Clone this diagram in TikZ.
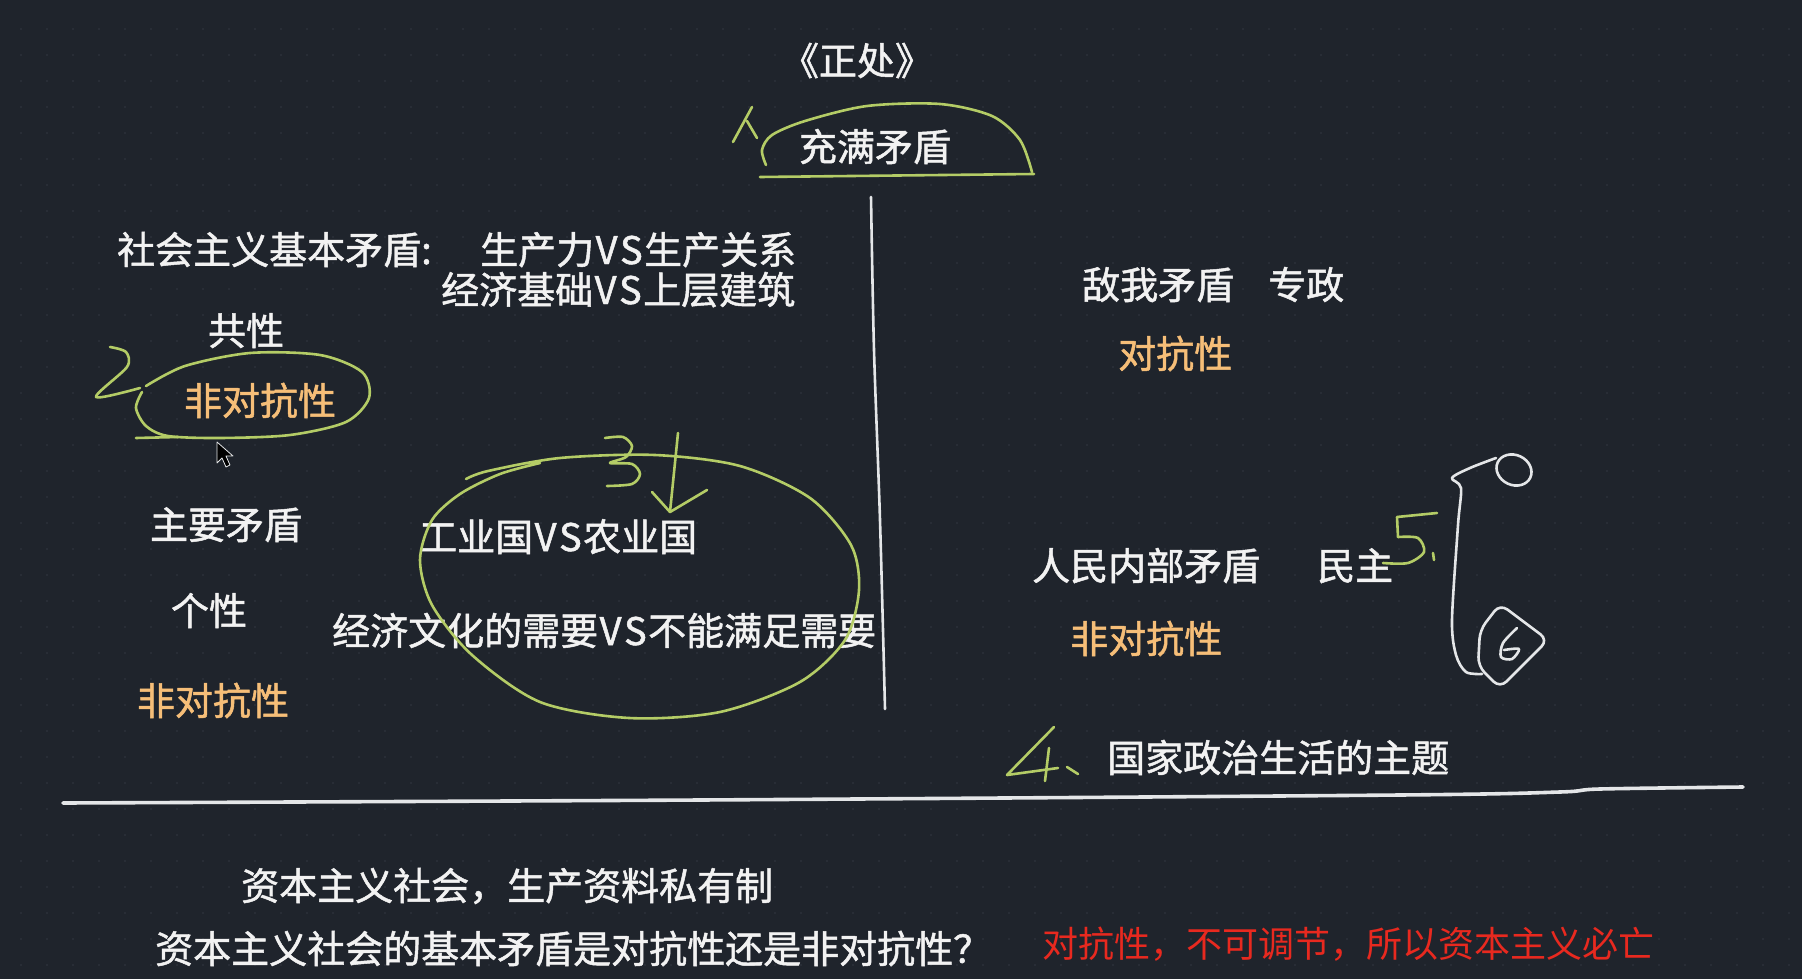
\documentclass[tikz,border=0pt]{standalone}
\usepackage{fontspec}
\setmainfont{Noto Sans CJK SC}
\newfontfamily\wbf[FakeBold=1.3]{Noto Sans CJK SC}
\definecolor{bgc}{HTML}{1F242C}
\definecolor{dotc}{HTML}{2A2F38}
\definecolor{wtxt}{HTML}{F2F2F2}
\definecolor{otxt}{HTML}{F6BE78}
\definecolor{rtxt}{HTML}{E8291F}
\definecolor{gpen}{HTML}{B4CC66}
\definecolor{wpen}{HTML}{E4E6E8}
\newcommand{\vs}{\kern1.5pt V\kern2.5pt S\kern1.5pt}
\begin{document}
\begin{tikzpicture}[x=1pt,y=-1pt,
  txt/.style={font=\fontsize{38}{42}\wbf, text=wtxt, inner sep=0pt, anchor=base west},
  ctxt/.style={txt, anchor=base},
  otx/.style={txt, text=otxt},
  rtx/.style={txt, text=rtxt, font=\fontsize{36}{40}\selectfont},
  gstroke/.style={draw=gpen, line width=2.6pt, line cap=round, line join=round},
  wstroke/.style={draw=wpen, line width=2.6pt, line cap=round, line join=round}]
\fill[bgc] (0,0) rectangle (1802,979);
\useasboundingbox (0,0) rectangle (1802,979);
\foreach \i in {0,...,68} {\foreach \j in {0,...,36} {\fill[dotc] (21+26*\i, 29+26*\j) circle (1.4);}}

% top
\node[ctxt] (title) at (857,75) {《正处》};
\node[ctxt] (full) at (875,161) {充满矛盾};
\draw[gstroke] plot[smooth] coordinates {(766,165) (762,150) (772,135) (805,121) (867,106) (940,104) (992,116) (1020,140) (1032,172)};
\draw[gstroke] (760,177) -- (1034,174);
\draw[gstroke] (733,142) -- (752,107);
\draw[gstroke] (747,121) -- (757,138);

% central vertical line
\draw[wstroke] plot[smooth] coordinates {(871,197) (874,350) (880,520) (885,709)};

% left top
\node[txt] (basic) at (117,264) {社会主义基本矛盾:};
\node[txt] (prod) at (480,264) {生产力\vs 生产关系};
\node[txt] (econ) at (441,304) {经济基础\vs 上层建筑};
\node[ctxt] (common) at (246,345) {共性};
\node[ctxt, text=otxt] (nonanta) at (260,415) {非对抗性};
\draw[gstroke] plot[smooth] coordinates {(110,347) (126,352) (127,367) (96,397) (140,388)};
\draw[gstroke] plot[smooth] coordinates {(146,386) (185,366) (250,353) (320,355) (362,372) (369,398) (346,422) (290,435) (220,438) (168,436) (146,426) (136,408) (142,392)};
\draw[gstroke] (136,438) -- (178,437);

% cursor
\draw[wpen, fill=black, line width=0.8pt, line join=round] (217,442) -- (217,463) -- (222,458) -- (226,467) -- (230,465) -- (226,456) -- (233,456) -- cycle;

% left lower
\node[ctxt] (main) at (226,539) {主要矛盾};
\node[ctxt] (indiv) at (209,625) {个性};
\node[ctxt, text=otxt] (nonantb) at (213,715) {非对抗性};
\node[txt] (indus) at (419,551) {工业国\vs 农业国};
\node[txt] (needs) at (332,645) {经济文化的需要\vs 不能满足需要};
\draw[gstroke] plot[smooth] coordinates {(466,479) (488,471) (560,458) (655,455) (740,466) (810,498) (851,545) (859,590) (845,640) (800,682) (720,712) (629,718) (540,702) (472,655) (432,605) (420,560) (432,520) (460,494) (500,474) (540,463)};
\draw[gstroke] plot[smooth] coordinates {(605,438) (623,437) (632,446) (626,457) (610,463) (632,464) (640,474) (632,484) (607,486)};
\draw[gstroke] (678,433) -- (670,512);
\draw[gstroke] (652,492) -- (670,512) -- (707,490);

% right
\node[txt] (enemy) at (1082,299) {敌我矛盾};
\node[txt] (dict) at (1268,299) {专政};
\node[otx] (anta) at (1118,368) {对抗性};
\node[txt] (people) at (1032,580) {人民内部矛盾};
\node[txt] (demo) at (1317,580) {民主};
\node[otx] (nonantc) at (1070,653) {非对抗性};
\node[txt] (theme) at (1107,772) {国家政治生活的主题};

\draw[gstroke] (1437,513) -- (1397,517) -- (1398,537);
\draw[gstroke] plot[smooth] coordinates {(1398,537) (1418,538) (1424,552) (1408,563) (1383,563)};
\draw[gstroke] (1433,553) -- (1434,560);

\draw[gstroke] (1054,727) -- (1007,775) -- (1058,768);
\draw[gstroke] (1049,748) -- (1045,781);
\draw[gstroke] (1067,767) -- (1078,774);

\draw[wstroke] plot[smooth] coordinates {(1496,458) (1470,468) (1452,478) (1461,488) (1458,525) (1452,620) (1456,655) (1466,672) (1482,674)};
\draw[wstroke, rotate around={-25:(1514,470)}] (1514,470) ellipse (18 and 15);
\draw[wstroke, rounded corners=9pt] (1500,604) -- (1548,640) -- (1500,688) -- (1478,666) -- (1480,630) -- cycle;
\draw[wstroke] plot[smooth] coordinates {(1517,628) (1503,643) (1501,657) (1512,659) (1519,649) (1504,650)};

% horizontal divider
\draw[draw=wpen, line width=3.6pt, line cap=round] plot[smooth] coordinates {(63,803) (700,800) (1400,795) (1560,792) (1600,789) (1743,787)};

% bottom
\node[txt] (capa) at (241,900) {资本主义社会，生产资料私有制};
\node[txt] (capq) at (155,963) {资本主义社会的基本矛盾是对抗性还是非对抗性？};
\node[rtx] (capans) at (1042,957) {对抗性，不可调节，所以资本主义必亡};
\end{tikzpicture}
\end{document}
